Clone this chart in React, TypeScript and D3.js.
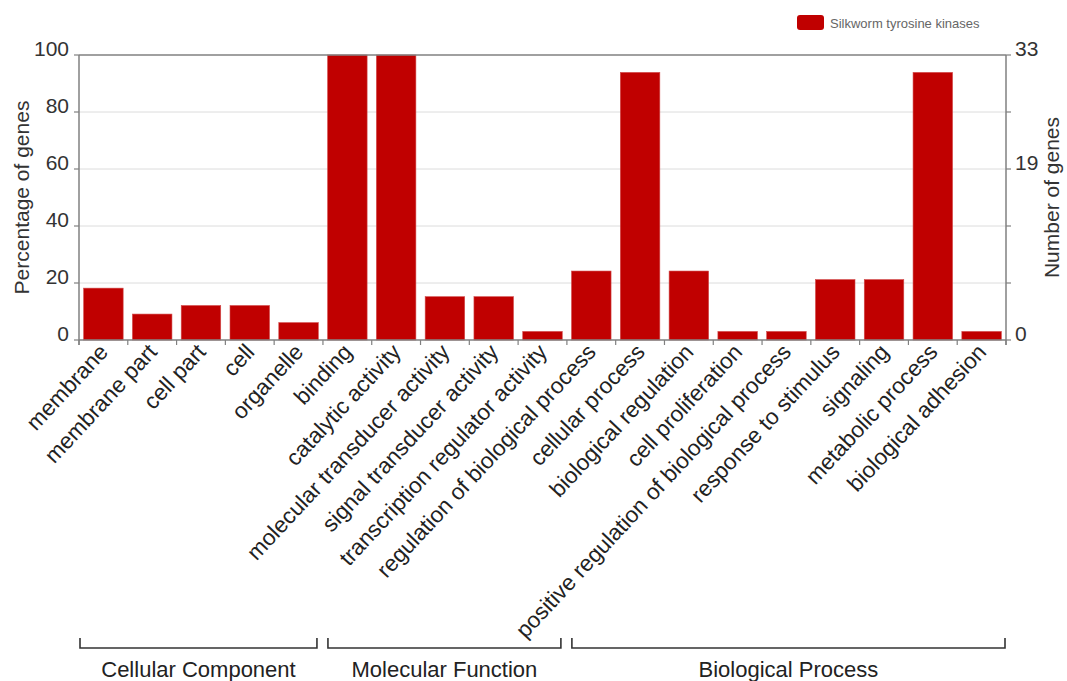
import React from "react";
import * as d3 from "d3";

const categories = [
  "membrane", "membrane part", "cell part", "cell", "organelle",
  "binding", "catalytic activity", "molecular transducer activity", "signal transducer activity", "transcription regulator activity",
  "regulation of biological process", "cellular process", "biological regulation", "cell proliferation",
  "positive regulation of biological process", "response to stimulus", "signaling", "metabolic process", "biological adhesion",
];
const percentages = [18.2, 9.1, 12.1, 12.1, 6.1, 100, 100, 15.2, 15.2, 3.0, 24.2, 93.9, 24.2, 3.0, 3.0, 21.2, 21.2, 93.9, 3.0];
const groupNames = ["Cellular Component", "Molecular Function", "Biological Process"];
const groupStart = [0, 5, 10];
const groupEnd = [4, 9, 18];
const leftTicks = [0, 20, 40, 60, 80, 100];
const rightTickPcts = [100, 60, 0];
const rightTickLabels = ["33", "19", "0"];
const seriesName = "Silkworm tyrosine kinases";

const W = 1067, H = 681;
const M = { left: 79, right: 1006, top: 55, bottom: 340 };
const FONT = "'Liberation Sans', Arial, Helvetica, sans-serif";
const RED = "#c00000";

export default function App() {
  const x = d3.scaleBand<string>().domain(categories).range([M.left, M.right]).paddingInner(0.19).paddingOuter(0.095);
  const xb = d3.scaleBand<string>().domain(categories).range([M.left, M.right]).padding(0);
  const y = d3.scaleLinear().domain([0, 100]).range([M.bottom, M.top]);
  const step = xb.step();

  return (
    <svg width={W} height={H} style={{ position: "absolute", left: 0, top: 0, background: "#fff" }} fontFamily={FONT}>
      {leftTicks.filter(t => t > 0 && t < 100).map(t => (
        <line key={"g" + t} x1={M.left} x2={M.right} y1={y(t)} y2={y(t)} stroke="#dcdcdc" strokeWidth={1} />
      ))}
      {categories.map((c, i) => (
        <rect key={c} x={x(c)} y={y(percentages[i])} width={x.bandwidth()} height={y(0) - y(percentages[i])}
          fill={RED} stroke="#d24a4a" strokeWidth={0.6} />
      ))}
      <line x1={M.left} x2={M.right} y1={y(100)} y2={y(100)} stroke="#808080" strokeWidth={1.5} />
      <line x1={M.left} x2={M.left} y1={y(0) + 5} y2={y(100)} stroke="#808080" strokeWidth={1.5} />
      {leftTicks.map(t => (
        <g key={"l" + t}>
          <line x1={M.left - 5} x2={M.left} y1={y(t)} y2={y(t)} stroke="#808080" strokeWidth={1.2} />
          <text x={M.left - 10} y={y(t) + 1} textAnchor="end" fontSize={21} fill="#333">{t}</text>
        </g>
      ))}
      <line x1={M.right} x2={M.right} y1={y(0) + 5} y2={y(100)} stroke="#808080" strokeWidth={1.5} />
      {leftTicks.map(t => (
        <line key={"r" + t} x1={M.right} x2={M.right + 5} y1={y(t)} y2={y(t)} stroke="#808080" strokeWidth={1.2} />
      ))}
      {rightTickPcts.map((t, i) => (
        <text key={"rl" + t} x={M.right + 9} y={y(t) + 1} textAnchor="start" fontSize={21} fill="#333">{rightTickLabels[i]}</text>
      ))}
      <line x1={M.left} x2={M.right} y1={y(0)} y2={y(0)} stroke="#808080" strokeWidth={1.5} />
      {categories.map(c => (
        <line key={"bt" + c} x1={xb(c)} x2={xb(c)} y1={y(0)} y2={y(0) + 5} stroke="#808080" strokeWidth={1.2} />
      ))}
      <line x1={M.right} x2={M.right} y1={y(0)} y2={y(0) + 5} stroke="#808080" strokeWidth={1.2} />
      {categories.map(c => {
        const cx = (xb(c) as number) + step / 2 + 6;
        const cy = y(0) + 13;
        return (
          <text key={"xl" + c} transform={`translate(${cx},${cy}) rotate(-47)`} textAnchor="end" fontSize={22.5} fill="#222">{c}</text>
        );
      })}
      <text transform={`translate(29,${(M.top + M.bottom) / 2}) rotate(-90)`} textAnchor="middle" fontSize={21} fill="#333">Percentage of genes</text>
      <text transform={`translate(1059,${(M.top + M.bottom) / 2}) rotate(-90)`} textAnchor="middle" fontSize={21} fill="#333">Number of genes</text>
      <rect x={797} y={15} width={27} height={15} rx={3} fill={RED} />
      <text x={830} y={28} fontSize={13} fill="#666">{seriesName}</text>
      {groupNames.map((g, i) => {
        const x0 = (xb(categories[groupStart[i]]) as number) + (i === 0 ? 1 : 5);
        const x1 = (xb(categories[groupEnd[i]]) as number) + step - (i === 2 ? 1 : 6);
        const by = 648;
        return (
          <g key={g}>
            <path d={`M${x0},${by - 10}V${by}H${x1}V${by - 10}`} fill="none" stroke="#333" strokeWidth={1.6} />
            <text x={(x0 + x1) / 2} y={677} textAnchor="middle" fontSize={22} fill="#222">{g}</text>
          </g>
        );
      })}
    </svg>
  );
}
